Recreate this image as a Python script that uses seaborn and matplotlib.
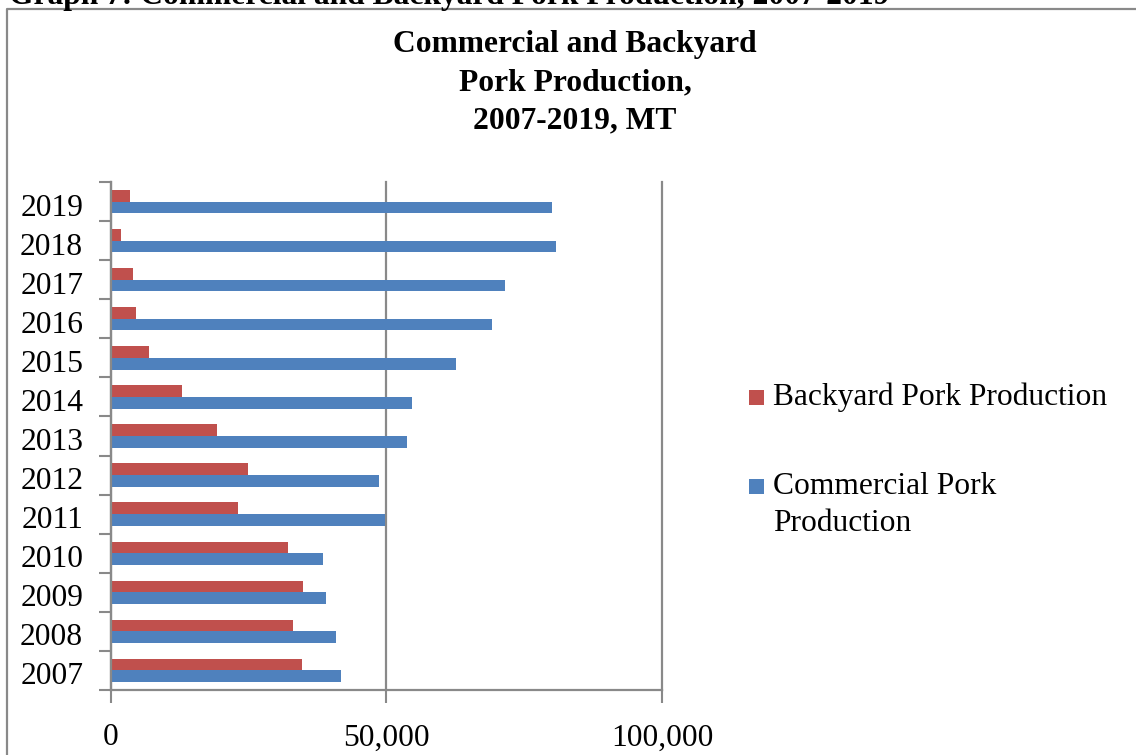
import numpy as np
import pandas as pd
import matplotlib
matplotlib.use("Agg")
import matplotlib.pyplot as plt
from matplotlib.patches import Rectangle
from matplotlib.lines import Line2D
from matplotlib.ticker import FuncFormatter
from matplotlib.transforms import ScaledTranslation
import seaborn as sns

plt.rcParams['font.family'] = ['Liberation Serif', 'DejaVu Serif']

# Production data, metric tonnes
years = [2007, 2008, 2009, 2010, 2011, 2012, 2013, 2014, 2015, 2016, 2017, 2018, 2019]
backyard = [34700, 33100, 34900, 32200, 23100, 24900, 19300, 12900, 6900, 4550, 4000, 1800, 3450]
commercial = [41800, 40900, 39100, 38550, 49800, 48550, 53800, 54700, 62550, 69100, 71450, 80700, 80000]

series_names = ["Backyard Pork Production", "Commercial Pork Production"]
series_colors = ["#C0504D", "#4F81BD"]
x_ticks = [0, 50000, 100000]

df = pd.DataFrame({
    "Year": [str(y) for y in years] * 2,
    "Value": backyard + commercial,
    "Series": [series_names[0]] * len(years) + [series_names[1]] * len(years),
})
year_order = [str(y) for y in reversed(years)]

W, H = 1136, 755
FS = 22.7
GRAY = "#898989"

fig = plt.figure(figsize=(W / 100, H / 100), dpi=100)
ax = fig.add_axes([111 / W, 1 - 690 / H, (662 - 111) / W, (690 - 182) / H])

sns.barplot(data=df, y="Year", x="Value", hue="Series", order=year_order,
            hue_order=series_names, palette=series_colors, orient="h",
            width=0.6, saturation=1, linewidth=0, legend=False, ax=ax)

ax.set_xlim(0, 100000)
ax.set_ylim(len(years) - 0.5, -0.5)
ax.set_xlabel("")
ax.set_ylabel("")

for side in ("top", "right"):
    ax.spines[side].set_visible(False)
for side in ("left", "bottom"):
    ax.spines[side].set_color(GRAY)
    ax.spines[side].set_linewidth(1.6)

ax.set_xticks(x_ticks)
ax.xaxis.set_major_formatter(FuncFormatter(lambda v, p: f"{v:,.0f}"))
ax.tick_params(axis="x", length=9, width=1.5, color=GRAY, pad=15, labelsize=FS)
ax.set_yticks(np.arange(-0.5, len(years), 1), minor=True)
ax.tick_params(axis="y", which="major", length=0, pad=20, labelsize=FS)
ax.tick_params(axis="y", which="minor", length=9, width=1.5, color=GRAY)

# nudge year labels slightly downward
shift = ScaledTranslation(0, -3 / 100, fig.dpi_scale_trans)
for lbl in ax.get_yticklabels():
    lbl.set_transform(lbl.get_transform() + shift)

ax.xaxis.grid(True, color=GRAY, linewidth=1.6)
ax.set_axisbelow(True)
for gl in ax.get_xgridlines():
    gl.set_clip_on(False)

# Chart title
for line, yb in zip(["Commercial and Backyard", "Pork Production,", "2007-2019, MT"],
                    [52, 90, 128]):
    fig.text(575 / W, 1 - yb / H, line, ha="center", va="baseline",
             fontsize=FS, fontweight="bold")

# Caption above the chart frame
fig.text(9 / W, 1 - 4 / H,
         "Graph 7: Commercial and Backyard Pork Production, 2007-2019",
         ha="left", va="baseline", fontsize=FS, fontweight="bold")

# Chart frame
fig.add_artist(Line2D([7 / W, 7 / W, 1.0], [0.0, 1 - 9 / H, 1 - 9 / H],
                      transform=fig.transFigure, color=GRAY, linewidth=1.6))

# Legend
legend_rows = [(series_colors[0], 405, ["Backyard Pork Production"]),
               (series_colors[1], 494, ["Commercial Pork", "Production"])]
for color, yb, lines in legend_rows:
    fig.add_artist(Rectangle((749 / W, 1 - yb / H), 15 / W, 15 / H,
                             transform=fig.transFigure, facecolor=color,
                             edgecolor="none"))
    for i, text in enumerate(lines):
        fig.text(773 / W, 1 - (yb + 37 * i) / H, text, ha="left", va="baseline",
                 fontsize=FS)

fig.savefig("out.png", dpi=100)
